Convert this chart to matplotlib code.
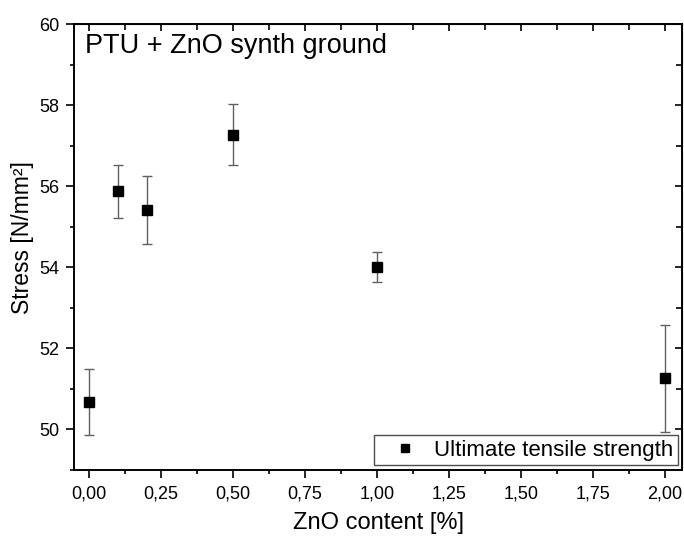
import matplotlib
matplotlib.use("Agg")
import matplotlib.pyplot as plt

plt.rcParams['font.family'] = ['Liberation Sans', 'DejaVu Sans']

# ZnO content [%] vs ultimate tensile strength
zno = [0.0, 0.1, 0.2, 0.5, 1.0, 2.0]
stress = [50.67, 55.87, 55.41, 57.27, 54.0, 51.25]
stress_err = [0.81, 0.65, 0.83, 0.76, 0.37, 1.33]

xticks = [0.0, 0.25, 0.5, 0.75, 1.0, 1.25, 1.5, 1.75, 2.0]
xticklabels = ["0,00", "0,25", "0,50", "0,75", "1,00", "1,25", "1,50", "1,75", "2,00"]
yticks = [50, 52, 54, 56, 58, 60]
xminor = [0.125 + 0.25 * i for i in range(8)]
yminor = [49, 51, 53, 55, 57, 59]

fig = plt.figure(figsize=(6.84, 5.36), dpi=100)
ax = fig.add_axes([0.1082, 0.124, 0.889, 0.831])

ax.errorbar(zno, stress, yerr=stress_err, fmt='none',
            ecolor='#606060', elinewidth=1.0, capsize=3.5, capthick=1.0)
ax.plot(zno, stress, 's', color='black', ms=7.5, label='Ultimate tensile strength')

ax.set_xlim(-0.053, 2.061)
ax.set_ylim(49, 60)
ax.set_xticks(xticks)
ax.set_xticklabels(xticklabels)
ax.set_yticks(yticks)
ax.set_xticks(xminor, minor=True)
ax.set_yticks(yminor, minor=True)
ax.tick_params(which='major', direction='out', length=5.5, width=1.2, labelsize=13)
ax.tick_params(axis='x', which='major', pad=6)
ax.tick_params(axis='y', which='major', pad=5)
ax.tick_params(which='minor', direction='out', length=3, width=1.2)
for s in ax.spines.values():
    s.set_linewidth(1.4)

# mirrored inward ticks on top/right
top = ax.secondary_xaxis('top')
top.set_xticks(xticks)
top.set_xticks(xminor, minor=True)
top.tick_params(which='major', direction='in', length=5, width=1.2, labeltop=False)
top.tick_params(which='minor', direction='in', length=4, width=1.2)
right = ax.secondary_yaxis('right')
right.set_yticks(yticks)
right.set_yticks(yminor, minor=True)
right.tick_params(which='major', direction='in', length=5, width=1.2, labelright=False)
right.tick_params(which='minor', direction='in', length=4, width=1.2)

ax.set_xlabel('ZnO content [%]', fontsize=17, labelpad=7)
ax.set_ylabel('Stress [N/mm²]', fontsize=16.5)
ax.yaxis.set_label_coords(-0.066, 0.52)
ax.text(0.018, 0.98, 'PTU + ZnO synth ground', transform=ax.transAxes,
        fontsize=19.5, va='top', ha='left')

leg = ax.legend(loc='lower right', fontsize=16, frameon=True, fancybox=False,
                edgecolor='#202020', handletextpad=0.1, borderpad=0.2,
                handlelength=2.4, borderaxespad=0.2, markerscale=0.85)
leg.get_frame().set_linewidth(1.0)

fig.savefig('out.png', dpi=100)
